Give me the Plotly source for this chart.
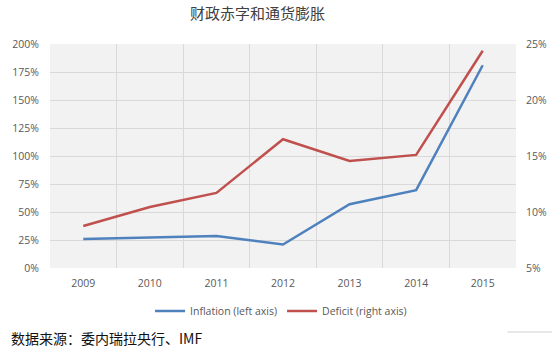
import plotly.graph_objects as go

years = ["2009", "2010", "2011", "2012", "2013", "2014", "2015"]
inflation_pct = [26, 27.5, 28.5, 21, 57, 69.5, 181]
deficit_pct = [8.75, 10.45, 11.7, 16.5, 14.55, 15.1, 24.4]

title_text = "财政赤字和通货膨胀"
source_text = "数据来源：委内瑞拉央行、IMF"

W, H = 559, 352
L, R, T, B = 43, 38, 44, 84
pw, ph = W - L - R, H - T - B

def px_x(x):
    return (x - L) / pw

def px_y(y):
    return (H - B - y) / ph

fig = go.Figure()
fig.add_trace(go.Scatter(
    x=years, y=[v / 100 for v in inflation_pct], name="Inflation (left axis)",
    mode="lines", line=dict(color="#4F81BD", width=2.5), yaxis="y"))
fig.add_trace(go.Scatter(
    x=years, y=[v / 100 for v in deficit_pct], name="Deficit (right axis)",
    mode="lines", line=dict(color="#C0504D", width=2.5), yaxis="y2"))

tickfont = dict(family="Open Sans, Noto Sans, sans-serif", size=10.5, color="#595959")

fig.update_layout(
    width=W, height=H,
    margin=dict(l=L, r=R, t=T, b=B, pad=0),
    paper_bgcolor="white", plot_bgcolor="#f2f2f2",
    showlegend=True,
    legend=dict(orientation="h", x=px_x(280), y=px_y(311), xanchor="center", yanchor="middle",
                font=tickfont, itemwidth=30, bgcolor="rgba(0,0,0,0)", tracegroupgap=0),
    xaxis=dict(type="category", range=[-0.5, len(years) - 0.5], showgrid=True,
               gridcolor="#d9d9d9", gridwidth=1,
               tickson="boundaries", ticks="", showline=False, zeroline=False,
               tickfont=tickfont, ticklabelstandoff=7),
    yaxis=dict(range=[0, 2], dtick=0.25, tickformat=".0%", showgrid=True,
               gridcolor="#d9d9d9", gridwidth=1, zeroline=False, showline=False,
               ticks="", tickfont=tickfont, ticklabelstandoff=10),
    yaxis2=dict(range=[0.05, 0.25], dtick=0.05, tickformat=".0%", overlaying="y",
                side="right", showgrid=False, zeroline=False, showline=False,
                ticks="", tickfont=tickfont, ticklabelstandoff=9),
    annotations=[
        dict(text=title_text, xref="paper", yref="paper", x=px_x(256), y=px_y(13),
             xanchor="center", yanchor="middle", showarrow=False,
             font=dict(family="Noto Sans CJK SC", size=15, color="#404040")),
        dict(text=source_text, xref="paper", yref="paper", x=px_x(1), y=px_y(338),
             xanchor="left", yanchor="middle", showarrow=False,
             font=dict(family="Noto Sans CJK SC", size=14, color="#111111")),
    ],
    shapes=[
        dict(type="line", xref="paper", yref="paper", x0=px_x(512), x1=px_x(558),
             y0=px_y(332), y1=px_y(332), line=dict(color="#d0d0d0", width=1)),
    ],
)

fig.write_html("out.html")
